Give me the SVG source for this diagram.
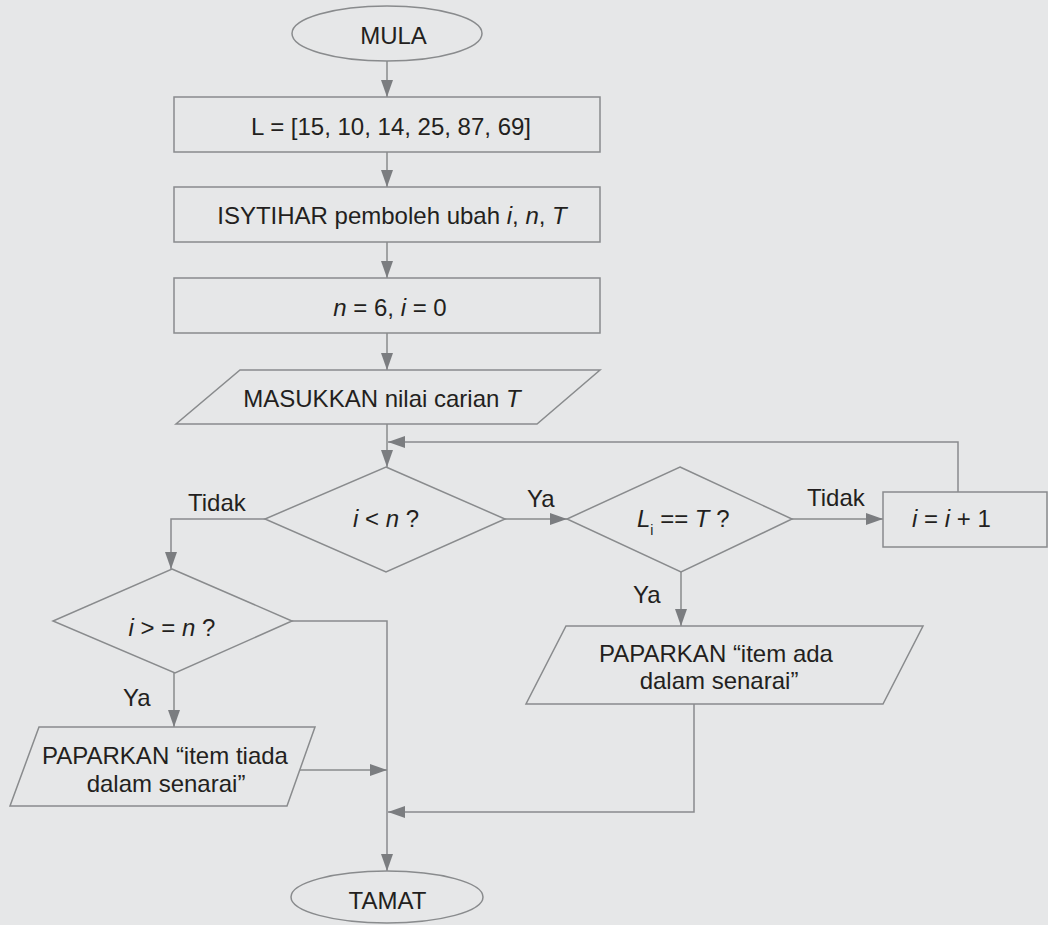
<svg xmlns="http://www.w3.org/2000/svg" width="1048" height="925" viewBox="0 0 1048 925">
  <style>
    .shape { fill: none; stroke: #898b8d; stroke-width: 1.5; }
    .wire { fill: none; stroke: #898b8d; stroke-width: 1.5; }
    text { font-family: "Liberation Sans", Arial, sans-serif; font-size: 24px; fill: #231f20; }
    .mid { text-anchor: middle; }
    .it { font-style: italic; }
    .sub { font-size: 14px; }
  </style>
  <defs>
    <marker id="arrow" markerUnits="userSpaceOnUse" markerWidth="17" markerHeight="12" refX="17" refY="6" orient="auto">
      <path d="M0,0 L17,6 L0,12 z" fill="#7b7d80"/>
    </marker>
  </defs>

  <rect x="0" y="0" width="1048" height="925" fill="#e6e7e8"/>

  <!-- connectors -->
  <g id="connectors">
    <path class="wire" d="M387,61 L387,97" marker-end="url(#arrow)"/>
    <path class="wire" d="M387,152 L387,187" marker-end="url(#arrow)"/>
    <path class="wire" d="M387,242 L387,278" marker-end="url(#arrow)"/>
    <path class="wire" d="M387,333 L387,370" marker-end="url(#arrow)"/>
    <path class="wire" d="M387,424 L387,467" marker-end="url(#arrow)"/>
    <path class="wire" d="M505,519 L567,519" marker-end="url(#arrow)"/>
    <path class="wire" d="M792,519 L883,519" marker-end="url(#arrow)"/>
    <path class="wire" d="M958,492 L958,442 L388,442" marker-end="url(#arrow)"/>
    <path class="wire" d="M265,519 L171,519 L171,569" marker-end="url(#arrow)"/>
    <path class="wire" d="M174,673 L174,727" marker-end="url(#arrow)"/>
    <path class="wire" d="M292,621 L387,621 L387,871" marker-end="url(#arrow)"/>
    <path class="wire" d="M300,770 L387,770" marker-end="url(#arrow)"/>
    <path class="wire" d="M681,572 L681,626" marker-end="url(#arrow)"/>
    <path class="wire" d="M694,704 L694,812 L388,812" marker-end="url(#arrow)"/>
  </g>

  <!-- labels on branches -->
  <g id="branch-labels">
    <text x="188" y="511">Tidak</text>
    <text x="527" y="507">Ya</text>
    <text x="807" y="506">Tidak</text>
    <text x="633" y="603">Ya</text>
    <text x="123" y="706">Ya</text>
  </g>

  <g id="mula">
    <ellipse class="shape" cx="387" cy="33.5" rx="95" ry="27.5"/>
    <text x="393.5" y="44" class="mid">MULA</text>
  </g>

  <g id="senarai">
    <rect class="shape" x="174" y="97" width="426" height="55"/>
    <text x="391" y="135" class="mid">L = [15, 10, 14, 25, 87, 69]</text>
  </g>

  <g id="isytihar">
    <rect class="shape" x="174" y="187" width="426" height="55"/>
    <text x="392" y="224" class="mid">ISYTIHAR pemboleh ubah <tspan class="it">i</tspan>, <tspan class="it">n</tspan>, <tspan class="it">T</tspan></text>
  </g>

  <g id="nilai-awal">
    <rect class="shape" x="174" y="278" width="426" height="55"/>
    <text x="390" y="316" class="mid"><tspan class="it">n</tspan> = 6, <tspan class="it">i</tspan> = 0</text>
  </g>

  <g id="masukkan">
    <polygon class="shape" points="240,370 600,370 537,424 176,424"/>
    <text x="382" y="407" class="mid">MASUKKAN nilai carian <tspan class="it">T</tspan></text>
  </g>

  <g id="semak-i-kurang-n">
    <polygon class="shape" points="386,467 505,519 386,572 265,519"/>
    <text x="386" y="527" class="mid"><tspan class="it">i</tspan> &lt; <tspan class="it">n</tspan> ?</text>
  </g>

  <g id="semak-li-sama-t">
    <polygon class="shape" points="680,467 792,519 681,572 567,519"/>
    <text x="637" y="527"><tspan class="it">L</tspan><tspan class="sub" dy="8">i</tspan><tspan dy="-8"> == </tspan><tspan class="it">T</tspan> ?</text>
  </g>

  <g id="tambah-i">
    <rect class="shape" x="883" y="492" width="164" height="55"/>
    <text x="912" y="527"><tspan class="it">i</tspan> = <tspan class="it">i</tspan> + 1</text>
  </g>

  <g id="semak-i-lebih-n">
    <polygon class="shape" points="172,569 292,621 175,673 53,621"/>
    <text x="172" y="636" class="mid"><tspan class="it">i</tspan> &gt; = <tspan class="it">n</tspan> ?</text>
  </g>

  <g id="papar-tiada">
    <polygon class="shape" points="39,727 315,727 287,806 10,806"/>
    <text x="165" y="764" class="mid">PAPARKAN “item tiada</text>
    <text x="166" y="792" class="mid">dalam senarai”</text>
  </g>

  <g id="papar-ada">
    <polygon class="shape" points="566,626 923,626 883,704 526,704"/>
    <text x="716" y="662" class="mid">PAPARKAN “item ada</text>
    <text x="719" y="689" class="mid">dalam senarai”</text>
  </g>

  <g id="tamat">
    <ellipse class="shape" cx="387" cy="897" rx="96" ry="26"/>
    <text x="387.5" y="909" class="mid">TAMAT</text>
  </g>
</svg>
